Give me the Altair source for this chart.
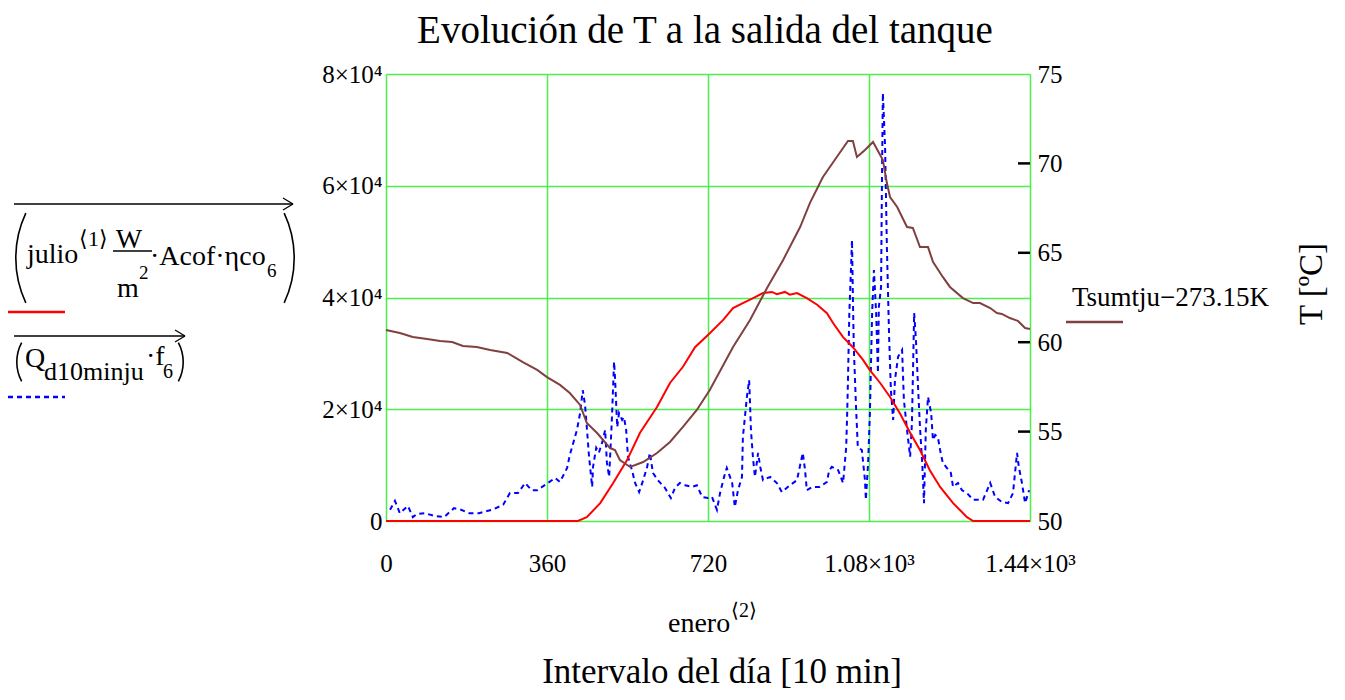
import altair as alt
import pandas as pd
import math

FONT = "Liberation Serif"
GRID = "#4cef4c"

# ---- data ----
blue_x = [9, 20, 31, 49, 60, 69, 87, 109, 130, 152, 168, 186, 208, 237, 262, 277, 295, 311, 326, 338,
          362, 378, 389, 405, 411, 427, 434, 440, 445, 449, 454, 461, 463, 470, 476, 485, 490, 494, 499, 505,
          510, 512, 517, 521, 528, 532, 537, 541, 550, 557, 566, 575, 584, 590, 597, 608, 624, 637, 646, 657,
          669, 684, 695, 707, 720, 729, 740, 747, 756, 762, 774, 780, 787, 796, 798, 807, 812, 814, 816, 821,
          825, 832, 836, 843, 859, 874, 885, 903, 919, 926, 932, 937, 941, 953, 970, 986, 991, 997, 1011, 1022,
          1029, 1031, 1033, 1036, 1038, 1042, 1044, 1046, 1051, 1055, 1064, 1071, 1073, 1078, 1082, 1087, 1091, 1096, 1100, 1102,
          1107, 1109, 1111, 1116, 1120, 1125, 1129, 1134, 1138, 1145, 1154, 1158, 1165, 1172, 1176, 1181, 1185, 1190, 1194, 1199,
          1203, 1207, 1212, 1219, 1223, 1228, 1234, 1239, 1245, 1263, 1268, 1279, 1288, 1299, 1313, 1335, 1351, 1362, 1377, 1391,
          1402, 1411, 1415, 1422, 1429, 1438]
blue_q = [2000, 3600, 1400, 2700, 700, 1250, 1400, 900, 700, 2300, 2000, 1400, 1400, 2000, 2900, 5000, 5000, 6800, 5500, 5500,
          6800, 7700, 7000, 9500, 11800, 16300, 19300, 23400, 20800, 16800, 11500, 6100, 9700, 13100, 12200, 14500, 16300, 10400, 7900, 18100,
          28500, 25800, 16800, 19300, 18100, 18600, 16300, 11500, 9100, 6800, 5200, 7300, 9700, 12200, 8600, 7300, 5900, 4100, 5900, 6800,
          6400, 6100, 6400, 4300, 4100, 4300, 2000, 5000, 7900, 9500, 6800, 2500, 5500, 7900, 15000, 22200, 25200, 21100, 16300, 10900,
          7900, 12200, 10000, 7300, 7900, 6800, 5200, 6400, 7300, 10000, 12200, 9100, 5500, 6100, 6100, 7000, 9100, 9700, 9100, 6800,
          13200, 18600, 25200, 37200, 41300, 50300, 40100, 31100, 20400, 13200, 12700, 7300, 3800, 10400, 19300, 37200, 44900, 37200, 26500, 38300,
          41900, 61000, 76600, 66900, 49000, 32900, 23400, 18100, 25200, 29400, 30600, 21700, 16300, 11500, 17500, 37200, 32400, 23400, 16800, 10400,
          3200, 16300, 22200, 19300, 14500, 15400, 15000, 12700, 10400, 8600, 6100, 6800, 5500, 5000, 3800, 3800, 6800, 4300, 3400, 3200,
          5000, 12200, 9700, 6800, 3200, 5500]

red_x = [0, 429, 449, 479, 508, 539, 568, 606, 635, 664, 691, 724, 754, 776, 798, 821, 843, 863, 874, 892,
         903, 919, 941, 964, 986, 1000, 1022, 1044, 1067, 1082, 1105, 1127, 1149, 1172, 1194, 1216, 1239, 1268, 1299, 1313, 1440]
red_p = [0, 0, 700, 3200, 6800, 10900, 15800, 20400, 24700, 27600, 31100, 33600, 36000, 38100, 39000, 39900, 40800, 41000, 40600, 41000,
         40500, 40800, 39900, 38700, 37200, 35400, 32900, 31100, 28800, 27000, 24700, 22200, 19300, 15800, 12700, 9100, 6100, 3200, 700, 0, 0]

brown_x = [0, 31, 60, 92, 121, 148, 172, 203, 233, 271, 306, 338, 360, 389, 411, 434, 449, 472, 501, 512,
           523, 546, 575, 606, 635, 664, 695, 724, 776, 814, 852, 888, 926, 948, 977, 1008, 1033, 1044, 1053, 1071,
           1089, 1105, 1111, 1120, 1127, 1143, 1165, 1178, 1194, 1212, 1223, 1245, 1261, 1290, 1313, 1328, 1351, 1366, 1377, 1395,
           1413, 1429, 1440]
brown_t = [60.68, 60.51, 60.29, 60.18, 60.07, 60.01, 59.79, 59.73, 59.56, 59.40, 58.89, 58.45, 58.05, 57.61, 57.16, 56.49, 55.48, 54.92, 54.08, 53.97,
           53.41, 53.02, 53.30, 53.80, 54.42, 55.26, 56.21, 57.33, 59.73, 61.24, 63.03, 64.60, 66.44, 67.79, 69.24, 70.36, 71.25, 71.25, 70.36, 70.75,
           71.20, 70.47, 70.19, 68.90, 68.12, 67.56, 66.44, 66.39, 65.32, 65.32, 64.49, 63.65, 63.09, 62.47, 62.19, 62.19, 61.91, 61.63, 61.58, 61.35,
           61.19, 60.79, 60.74]

x_ticks = [0, 360, 720, 1080, 1440]
left_ticks = [0, 20000, 40000, 60000, 80000]
right_ticks = [50, 55, 60, 65, 70, 75]
right_inner_ticks = [55, 60, 65, 70]

W, H = 644, 447

blue_df = pd.DataFrame({"x": blue_x, "v": blue_q})
red_df = pd.DataFrame({"x": red_x, "v": red_p})
brown_df = pd.DataFrame({"x": brown_x, "t": brown_t})
tick_df = pd.DataFrame({"t": right_inner_ticks})
one = pd.DataFrame({"k": [0]})

x_enc = alt.X("x:Q", scale=alt.Scale(domain=[0, 1440], nice=False, zero=False),
              axis=alt.Axis(values=x_ticks, grid=True, gridColor=GRID, gridWidth=1.5, tickSize=0, ticks=False,
                            domain=False, labelFont=FONT, labelFontSize=25, labelColor="black",
                            labelPadding=30, labelAngle=0, labelFlush=False, labelOverlap=False, title=None,
                            labelExpr="datum.value == 1080 ? '1.08×10³' : datum.value == 1440 ? '1.44×10³' : datum.value + ''"))

yl_enc = alt.Y("v:Q", scale=alt.Scale(domain=[0, 80000], nice=False, zero=True),
               axis=alt.Axis(orient="left", values=left_ticks, grid=True, gridColor=GRID, gridWidth=1.5,
                             tickSize=0, ticks=False, domain=False, labelFont=FONT, labelFontSize=25,
                             labelColor="black", labelPadding=4, title=None, labelOverlap=False,
                             labelExpr="datum.value == 0 ? '0' : (datum.value/10000) + '×10⁴'"))

yr_scale = alt.Scale(domain=[50, 75], nice=False, zero=False)
yr_enc = alt.Y("t:Q", scale=yr_scale,
               axis=alt.Axis(orient="right", values=right_ticks, grid=False, tickSize=0, ticks=False,
                             domain=False, labelFont=FONT, labelFontSize=25, labelColor="black",
                             labelPadding=7, title=None, labelOverlap=False))

blue = alt.Chart(blue_df).mark_line(color="#0000ff", strokeWidth=2, strokeDash=[5, 4]).encode(x=x_enc, y=yl_enc)
red = alt.Chart(red_df).mark_line(color="#ff0000", strokeWidth=2).encode(x=x_enc, y=yl_enc)
left = alt.layer(blue, red)

brown = alt.Chart(brown_df).mark_line(color="#804040", strokeWidth=2).encode(x=x_enc, y=yr_enc)
ticks = alt.Chart(tick_df).mark_rule(color="black", strokeWidth=2.5).encode(
    y=alt.Y("t:Q", scale=yr_scale, axis=None), x=alt.value(W - 12), x2=alt.value(W))


def txt(s, x, y, size, align="left", angle=None, baseline="alphabetic"):
    kw = dict(text=s, align=align, baseline=baseline, fontSize=size, font=FONT, color="black")
    if angle is not None:
        kw["angle"] = angle
    return alt.Chart(one).mark_text(**kw).encode(x=alt.value(x), y=alt.value(y))


def seg(x1, y1, x2, y2, color="black", width=1.5, dash=None):
    kw = dict(color=color, strokeWidth=width)
    if dash:
        kw["strokeDash"] = dash
    return alt.Chart(one).mark_rule(**kw).encode(x=alt.value(x1), x2=alt.value(x2),
                                                 y=alt.value(y1), y2=alt.value(y2))


def arc(cx, cy, r, mid, half):
    return alt.Chart(one).mark_arc(color="black", radius=r, radius2=r - 1.6,
                                   theta=mid - half, theta2=mid + half).encode(x=alt.value(cx), y=alt.value(cy))


L = math.pi * 1.5
R = math.pi * 0.5
deco = [
    # title
    txt("Evolución de T a la salida del tanque", 319, -31, 39, align="center"),
    # left legend: expression 1
    seg(-372, 130, -93, 130, width=1.3),
    seg(-103, 124, -93, 130, width=1.3),
    seg(-103, 136, -93, 130, width=1.3),
    arc(-265, 184, 106, L, 0.44),
    arc(-197, 184, 106, R, 0.44),
    txt("julio", -359, 189, 28),
    txt("⟨1⟩", -307, 172, 22),
    txt("W", -257, 174, 28, align="center"),
    seg(-273, 177, -234, 177, width=1.3),
    txt("m", -258, 223, 28, align="center"),
    txt("2", -247, 205, 19),
    txt("·Acof·ηco", -236, 191, 28),
    txt("6", -119, 203, 19),
    seg(-378, 238, -321, 238, color="#ff0000", width=2.5),
    # left legend: expression 2
    seg(-372, 262, -201, 262, width=1.3),
    seg(-211, 256, -201, 262, width=1.3),
    seg(-211, 268, -201, 262, width=1.3),
    arc(-328, 288, 42, L, 0.49),
    arc(-244, 288, 42, R, 0.49),
    txt("Q", -361, 293, 28),
    txt("d10minju", -342, 306, 26),
    txt("·f", -240, 291, 28),
    txt("6", -223, 304, 20),
    seg(-378, 323, -321, 323, color="#0000ff", width=2.5, dash=[5, 4]),
    # right legend
    txt("Tsumtju−273.15K", 686, 232, 27),
    seg(680, 248, 737, 248, color="#804040", width=2.5),
    txt("T [ºC]", 926, 210, 33, align="center", angle=270, baseline="middle"),
    # x axis titles
    txt("enero", 282, 558, 28),
    txt("⟨2⟩", 345, 543, 20),
    txt("Intervalo del día [10 min]", 336, 609, 35, align="center"),
]

chart = alt.layer(left, brown, ticks, *deco).resolve_scale(y="independent").properties(
    width=W, height=H,
    autosize=alt.AutoSizeParams(type="none"),
    padding={"left": 378, "top": 66, "right": 305, "bottom": 170},
).configure_view(stroke="black", strokeWidth=2.5).configure(background="white")

chart.save("out.html", embed_options={"renderer": "svg", "actions": False})
